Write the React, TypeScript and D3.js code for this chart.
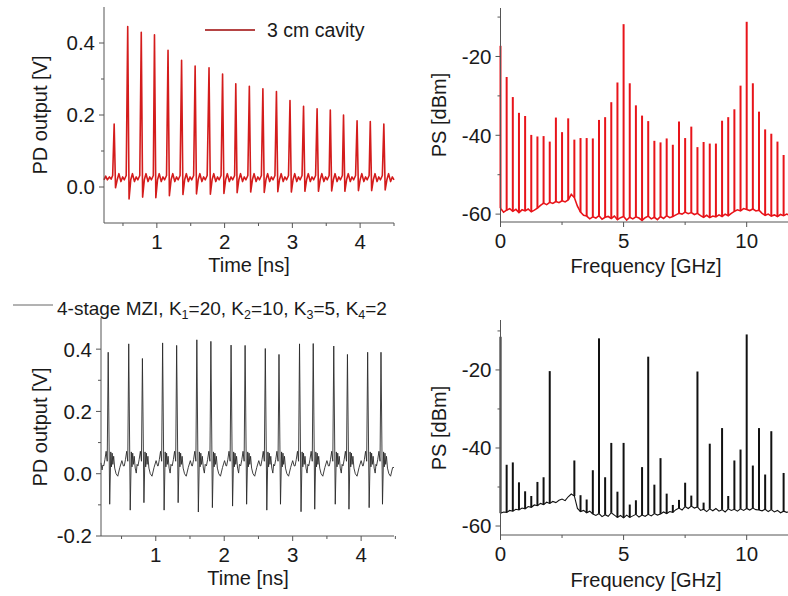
import React from 'react';
import * as d3 from 'd3';

const W = 788;
const H = 596;
const FONT = "'Liberation Sans', Arial, sans-serif";
const AXIS = '#555';
const TEXT = '#1a1a1a';

// ---------- Top-left: 3 cm cavity, PD output vs time ----------
const cavityPeakTimes = [0.37, 0.57, 0.77, 0.965, 1.165, 1.365, 1.565, 1.77, 1.97, 2.165, 2.365, 2.565, 2.765, 2.965, 3.165, 3.365, 3.56, 3.755, 3.955, 4.15, 4.35];
const cavityPeakValues = [0.175, 0.446, 0.43, 0.423, 0.38, 0.352, 0.336, 0.331, 0.314, 0.287, 0.28, 0.273, 0.265, 0.24, 0.224, 0.217, 0.214, 0.2, 0.184, 0.182, 0.175];
const cavityDipValues = [-0.002, -0.033, -0.028, -0.03, -0.024, -0.021, -0.019, -0.02, -0.018, -0.016, -0.014, -0.015, -0.013, -0.014, -0.012, -0.012, -0.011, -0.012, -0.01, -0.01, -0.008];
const cavityLead: [number, number][] = [[0.22, 0.02], [0.245, 0.03], [0.27, 0.02], [0.3, 0.028], [0.325, 0.022], [0.348, 0.032]];
const cavityRipple: [number, number][] = [[0.045, 0.02], [0.07, 0.037], [0.1, 0.015], [0.125, 0.028], [0.15, 0.02], [0.178, 0.032]];

// ---------- Bottom-left: 4-stage MZI, PD output vs time ----------
const mziPeakTimes = [0.305, 0.605, 0.805, 1.1, 1.305, 1.6, 1.805, 2.1, 2.305, 2.6, 2.8, 3.1, 3.3, 3.6, 3.8, 4.095, 4.29];
const mziPeakValues = [0.39, 0.417, 0.37, 0.42, 0.412, 0.43, 0.425, 0.413, 0.412, 0.402, 0.383, 0.417, 0.418, 0.41, 0.383, 0.39, 0.39];
const mziDipValues = [-0.098, -0.117, -0.093, -0.117, -0.093, -0.123, -0.109, -0.104, -0.098, -0.117, -0.098, -0.122, -0.114, -0.098, -0.114, -0.109, -0.098];
const mziLead: [number, number][] = [[0.2, 0.035], [0.215, 0.012], [0.228, 0.028]];
const mziBefore: [number, number][] = [[-0.065, 0.025], [-0.048, 0.045], [-0.03, 0.072], [-0.014, 0.04]];
const mziAfter: [number, number][] = [[0.038, 0.07], [0.048, 0.022], [0.058, 0.066], [0.068, 0.03], [0.08, 0.056], [0.095, 0.018]];
const mziShortGap: [number, number][] = [[0.11, 0.002], [0.122, 0.03]];
const mziLongGap: [number, number][] = [[0.115, 0.0], [0.14, -0.008], [0.17, 0.02], [0.2, 0.042], [0.222, 0.025]];
const mziEnd: [number, number] = [4.48, 0.02];

// ---------- Spectra ----------
const combFreqs = d3.range(0, 11.51, 0.25);
const floorFreqs = d3.range(0, 11.76, 0.125);

const cavityLinePower = [-17.3, -25.2, -30.3, -34.3, -35.1, -39.9, -40.3, -40.2, -41.6,
  -35.5, -39.2, -35.7, -41.1, -40.7, -40.7, -40.8, -36.1, -35.4, -31.6, -26.6,
  -11.8,
  -26.8, -32.4, -35.0, -36.4, -41.4, -41.8, -40.8, -42.4, -36.5, -40.7, -37.8, -43.0, -41.7, -42.1, -42.1, -36.3, -35.4, -33.4, -27.4,
  -11.2,
  -26.8, -34.0, -38.5, -39.6, -41.6, -45.0];

const cavityFloor = [-58.5, -59.5, -59.0, -58.6, -59.3, -58.8, -59.6, -58.9, -59.2, -58.7, -59.4, -59.0, -58.5,
  -57.8, -57.2, -57.6, -57.0,
  -57.3, -56.8, -57.1, -56.6, -56.9, -56.4,
  -55.0, -55.8, -58.0, -59.5, -60.3,
  -60.5, -61.2, -60.7, -61.0, -60.4, -61.3, -60.8, -60.6, -61.1, -60.5, -61.4, -60.9, -60.6, -61.5, -60.8, -61.2, -60.7, -61.0, -61.6, -60.9, -60.5, -61.2, -60.8, -61.4, -60.6, -61.1, -60.4, -60.9, -60.6,
  -60.2, -59.8, -60.0, -59.5, -59.9, -59.6, -60.1, -59.8,
  -60.4, -60.8, -60.3, -60.9, -60.5, -60.7, -60.2, -60.6, -60.0, -60.4, -59.8,
  -59.3, -58.9, -59.2, -58.6, -58.8, -59.1, -58.7, -59.2, -59.0,
  -59.8, -60.3, -60.0, -60.5, -60.2, -60.6, -60.1, -60.4, -60.0, -60.3];

const mziLinePower: (number | null)[] = [-11.5, -44.3, -43.7, -48.8, -51.1, -52.3, -48.7, -47.5, -20.3,
  null, null, null, -43.2, -52.1, -53.2, -45.7, -11.9, -47.5, -38.7, -51.2,
  -38.7,
  -54.5, -53.4, -44.9, -16.6, -49.4, -42.6, -51.7, -54.6, -53.3, -48.9, -52.2, -20.4, -54.0, -38.9, null, -34.9, -52.3, -43.2, -40.4,
  -10.9,
  -44.5, -34.9, -46.8, -35.7, null, -46.4];

const mziFloor = [-56.7, -56.4, -56.5, -56.0, -56.2, -55.7, -55.9, -55.4, -55.6, -55.0, -55.2, -54.6, -54.8, -54.2, -54.5, -53.9, -54.2, -53.7, -54.0, -53.4, -53.1, -53.5, -52.5, -51.8, -52.3, -55.5, -56.3, -56.0,
  -56.6, -56.2, -56.9, -57.3, -56.8, -57.6, -57.1, -57.5, -56.6, -57.2, -57.8, -57.3, -57.9, -57.2, -57.8, -57.4, -57.0, -57.7, -57.2, -57.5, -57.0, -57.4, -56.8, -57.2, -56.9, -56.4, -56.8, -56.3, -56.5,
  -55.8, -55.4, -55.9, -55.0, -55.5, -54.9, -55.4, -55.1,
  -56.0, -55.7, -56.3, -55.6, -56.1, -55.5, -56.2, -55.8, -56.4, -55.6, -56.0,
  -55.7, -56.2, -55.6, -56.0, -55.5, -55.9, -55.4, -55.8, -55.9,
  -56.1, -55.7, -56.3, -55.8, -56.4, -56.0, -56.6, -56.2, -56.5, -56.3];

// ---------- tick labels ----------
const timeTicks = [1, 2, 3, 4];
const timeMinor = [0.5, 1.5, 2.5, 3.5, 4.5];
const tlVoltTicks = [0, 0.2, 0.4];
const tlVoltMinor = [0.1, 0.3];
const blVoltTicks = [-0.2, 0, 0.2, 0.4];
const blVoltMinor = [-0.1, 0.1, 0.3];
const freqTicks = [0, 5, 10];
const freqMinor = [2.5, 7.5];
const psTicks = [-60, -40, -20];
const psMinor = [-50, -30, -10];

function buildCavity(): [number, number][] {
  const pts: [number, number][] = cavityLead.slice();
  cavityPeakTimes.forEach((tp, i) => {
    pts.push([tp, cavityPeakValues[i]]);
    pts.push([tp + 0.02, cavityDipValues[i]]);
    cavityRipple.forEach(([o, v]) => pts.push([tp + o, v]));
  });
  return pts.filter((p) => p[0] >= 0.22 && p[0] <= 4.5);
}

function buildMzi(): [number, number][] {
  const pts: [number, number][] = mziLead.slice();
  mziPeakTimes.forEach((tp, i) => {
    mziBefore.forEach(([o, v]) => pts.push([tp + o, v]));
    pts.push([tp, mziPeakValues[i]]);
    pts.push([tp + 0.022, mziDipValues[i]]);
    mziAfter.forEach(([o, v]) => pts.push([tp + o, v]));
    const next = mziPeakTimes[i + 1];
    const gap = next === undefined ? 0.3 : next - tp;
    (gap < 0.25 ? mziShortGap : mziLongGap).forEach(([o, v]) => pts.push([tp + o, v]));
  });
  const out = pts.filter((p) => p[0] >= 0.2 && p[0] < mziEnd[0]);
  out.push(mziEnd);
  return out;
}

type Scale = d3.ScaleLinear<number, number>;
const TICK_FS = 20.5;

function LeftAxis({ x, y, major, minor, fmt }: { x: Scale; y: Scale; major: number[]; minor: number[]; fmt: (v: number) => string }) {
  const x0 = x.range()[0];
  const [yb, yt] = y.range();
  return (
    <g>
      <line x1={x0} x2={x0} y1={yb} y2={yt} stroke={AXIS} strokeWidth={1} />
      {major.map((v) => (
        <line key={'M' + v} x1={x0 - 5} x2={x0} y1={y(v)} y2={y(v)} stroke={AXIS} strokeWidth={1} />
      ))}
      {minor.map((v) => (
        <line key={'m' + v} x1={x0 - 3} x2={x0} y1={y(v)} y2={y(v)} stroke={AXIS} strokeWidth={1} />
      ))}
      {major.map((v) => (
        <text key={'t' + v} x={x0 - 9} y={y(v)} dy="0.36em" textAnchor="end" fontSize={TICK_FS} fill={TEXT} fontFamily={FONT}>
          {fmt(v)}
        </text>
      ))}
    </g>
  );
}

function BottomAxis({ x, y, major, minor, fmt }: { x: Scale; y: Scale; major: number[]; minor: number[]; fmt: (v: number) => string }) {
  const y0 = y.range()[0];
  const [xl, xr] = x.range();
  return (
    <g>
      <line x1={xl} x2={xr} y1={y0} y2={y0} stroke={AXIS} strokeWidth={1} />
      {major.map((v) => (
        <line key={'M' + v} x1={x(v)} x2={x(v)} y1={y0} y2={y0 + 5} stroke={AXIS} strokeWidth={1} />
      ))}
      {minor.map((v) => (
        <line key={'m' + v} x1={x(v)} x2={x(v)} y1={y0} y2={y0 + 3} stroke={AXIS} strokeWidth={1} />
      ))}
      {major.map((v) => (
        <text key={'t' + v} x={x(v)} y={y0 + 26} textAnchor="middle" fontSize={TICK_FS} fill={TEXT} fontFamily={FONT}>
          {fmt(v)}
        </text>
      ))}
    </g>
  );
}

function YTitle({ x, y, text }: { x: number; y: number; text: string }) {
  return (
    <text transform={`translate(${x},${y}) rotate(-90)`} textAnchor="middle" fontSize={20} fill={TEXT} fontFamily={FONT}>
      {text}
    </text>
  );
}

function XTitle({ x, y, text }: { x: number; y: number; text: string }) {
  return (
    <text x={x} y={y} textAnchor="middle" fontSize={20} fill={TEXT} fontFamily={FONT}>
      {text}
    </text>
  );
}

const fmtV = (v: number) => (Math.abs(v) < 1e-9 ? '0.0' : v.toFixed(1));
const fmtInt = (v: number) => String(v);

export default function App() {
  const tlX = d3.scaleLinear().domain([0.22, 4.5]).range([104, 394]);
  const tlY = d3.scaleLinear().domain([-0.1, 0.5]).range([223, 7]);
  const blX = d3.scaleLinear().domain([0.2, 4.48]).range([101, 394]);
  const blY = d3.scaleLinear().domain([-0.2, 0.5]).range([536, 318]);
  const trX = d3.scaleLinear().domain([0, 11.8]).range([500.5, 791]);
  const trY = d3.scaleLinear().domain([-62, -7.7]).range([222, 8]);
  const brX = d3.scaleLinear().domain([0, 11.8]).range([500.5, 791]);
  const brY = d3.scaleLinear().domain([-62.3, -7.2]).range([535, 320]);

  const cavityPts = buildCavity();
  const mziPts = buildMzi();

  const tlLine = d3.line<[number, number]>().x((d) => tlX(d[0])).y((d) => tlY(d[1]));
  const blLine = d3.line<[number, number]>().x((d) => blX(d[0])).y((d) => blY(d[1]));
  const trFloor = d3.line<number>().x((_, i) => trX(floorFreqs[i])).y((d) => trY(d));
  const brFloor = d3.line<number>().x((_, i) => brX(floorFreqs[i])).y((d) => brY(d));

  const red = '#d41c1c';
  const brightRed = '#e8141a';

  return (
    <svg width={W} height={H} style={{ position: 'absolute', left: 0, top: 0, background: '#fff' }} xmlns="http://www.w3.org/2000/svg">
      <rect x={0} y={0} width={W} height={H} fill="#fff" />

      {/* ---------- Top-left ---------- */}
      <path d={tlLine(cavityPts) || ''} fill="none" stroke={red} strokeWidth={1.6} strokeLinejoin="round" />
      <LeftAxis x={tlX} y={tlY} major={tlVoltTicks} minor={tlVoltMinor} fmt={fmtV} />
      <BottomAxis x={tlX} y={tlY} major={timeTicks} minor={timeMinor} fmt={fmtInt} />
      <YTitle x={47} y={115} text="PD output [V]" />
      <XTitle x={249} y={272} text="Time [ns]" />
      <line x1={205} x2={255} y1={30} y2={30} stroke="#b54444" strokeWidth={2} />
      <text x={267} y={37} fontSize={19.5} fill={TEXT} fontFamily={FONT}>3 cm cavity</text>

      {/* ---------- Top-right ---------- */}
      <path d={trFloor(cavityFloor) || ''} fill="none" stroke={brightRed} strokeWidth={1.6} />
      {combFreqs.map((f, i) => (
        <line key={'trl' + i} x1={trX(f)} x2={trX(f)} y1={trY(cavityFloor[i * 2])} y2={trY(cavityLinePower[i])} stroke={brightRed} strokeWidth={2} />
      ))}
      <LeftAxis x={trX} y={trY} major={psTicks} minor={psMinor} fmt={fmtInt} />
      <BottomAxis x={trX} y={trY} major={freqTicks} minor={freqMinor} fmt={fmtInt} />
      <YTitle x={446} y={115} text="PS [dBm]" />
      <XTitle x={646} y={273} text="Frequency [GHz]" />

      {/* ---------- Bottom-left ---------- */}
      <path d={blLine(mziPts) || ''} fill="none" stroke="#2a2a2a" strokeWidth={0.9} strokeLinejoin="round" />
      <LeftAxis x={blX} y={blY} major={blVoltTicks} minor={blVoltMinor} fmt={fmtV} />
      <BottomAxis x={blX} y={blY} major={timeTicks} minor={timeMinor} fmt={fmtInt} />
      <YTitle x={47} y={427} text="PD output [V]" />
      <XTitle x={248} y={585} text="Time [ns]" />
      <line x1={13} x2={53} y1={305} y2={305} stroke="#666" strokeWidth={1} />
      <text x={57} y={315} fontSize={19} fill={TEXT} fontFamily={FONT}>
        <tspan>4-stage MZI, K</tspan>
        <tspan fontSize={12.5} dy={4}>1</tspan>
        <tspan dy={-4}>=20, K</tspan>
        <tspan fontSize={12.5} dy={4}>2</tspan>
        <tspan dy={-4}>=10, K</tspan>
        <tspan fontSize={12.5} dy={4}>3</tspan>
        <tspan dy={-4}>=5, K</tspan>
        <tspan fontSize={12.5} dy={4}>4</tspan>
        <tspan dy={-4}>=2</tspan>
      </text>

      {/* ---------- Bottom-right ---------- */}
      <path d={brFloor(mziFloor) || ''} fill="none" stroke="#111" strokeWidth={1.1} />
      {combFreqs.map((f, i) =>
        mziLinePower[i] === null ? null : (
          <line key={'brl' + i} x1={brX(f)} x2={brX(f)} y1={brY(mziFloor[i * 2])} y2={brY(mziLinePower[i] as number)} stroke="#111" strokeWidth={2} />
        )
      )}
      <LeftAxis x={brX} y={brY} major={psTicks} minor={psMinor} fmt={fmtInt} />
      <BottomAxis x={brX} y={brY} major={freqTicks} minor={freqMinor} fmt={fmtInt} />
      <YTitle x={446} y={428} text="PS [dBm]" />
      <XTitle x={646} y={587} text="Frequency [GHz]" />
    </svg>
  );
}
